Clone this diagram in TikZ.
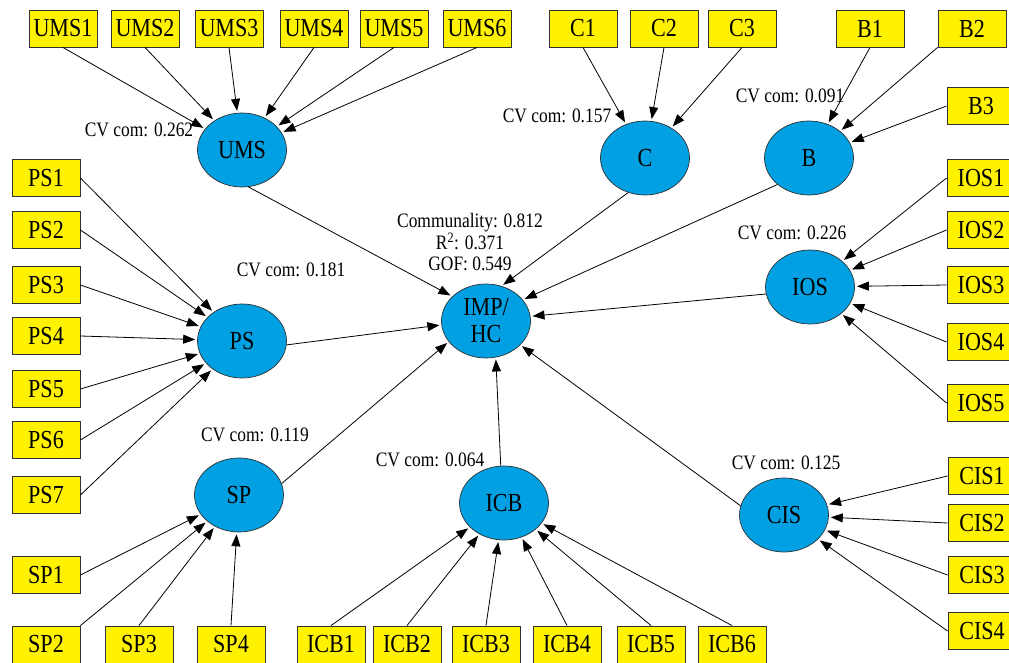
\documentclass[tikz,border=0pt]{standalone}
\usepackage{fontspec}
\setmainfont{Liberation Serif}[FakeStretch=0.85]
\usetikzlibrary{shapes.geometric,arrows.meta}
\definecolor{boxyellow}{RGB}{255,242,0}
\definecolor{lvblue}{RGB}{0,160,227}
\definecolor{edgegray}{RGB}{50,50,50}
\tikzset{
  ind/.style={draw=edgegray, line width=0.9pt, fill=boxyellow, minimum width=68pt, minimum height=37pt, inner sep=0pt, font=\fontsize{26}{28}\selectfont},
  lv/.style={ellipse, draw=edgegray, line width=0.7pt, fill=lvblue, minimum width=89pt, minimum height=74pt, inner sep=0pt, font=\fontsize{26}{27}\selectfont, align=center},
  lbl/.style={font=\fontsize{20.5}{21}\selectfont, inner sep=0pt, align=center},
  arr/.style={-{Triangle[length=12pt,width=9pt]}, line width=0.8pt, shorten >=2pt}
}
\begin{document}
\begin{tikzpicture}[x=1pt,y=-1pt]
\useasboundingbox (0,0) rectangle (1009,663);
% latent variables
\node[lv] (UMS) at (242,150) {UMS};
\node[lv] (C) at (645,158) {C};
\node[lv] (B) at (809,158) {B};
\node[lv] (IOS) at (810,287) {IOS};
\node[lv] (PS) at (242,341) {PS};
\node[lv] (IMP) at (486,321) {IMP/\\HC};
\node[lv] (SP) at (239,495) {SP};
\node[lv] (ICB) at (504,503) {ICB};
\node[lv] (CIS) at (784,515) {CIS};
% labels
\node[lbl] (lUMS) at (139,130) {CV com: 0.262};
\node[lbl] (lC) at (557,116) {CV com: 0.157};
\node[lbl] (lB) at (790,96) {CV com: 0.091};
\node[lbl] (lIOS) at (792,233) {CV com: 0.226};
\node[lbl] (lPS) at (291,270) {CV com: 0.181};
\node[lbl] (lSP) at (255,435) {CV com: 0.119};
\node[lbl] (lICB) at (430,460) {CV com: 0.064};
\node[lbl] (lCIS) at (786,463) {CV com: 0.125};
\node[lbl, font=\fontsize{20.5}{21}\selectfont] (lIMP) at (470,242) {Communality: 0.812\\R\textsuperscript{2}: 0.371\\GOF: 0.549};
% indicators top
\node[ind] (UMS1) at (63,28.5) {UMS1};
\node[ind] (UMS2) at (145,28.5) {UMS2};
\node[ind] (UMS3) at (229,28.5) {UMS3};
\node[ind] (UMS4) at (314,28.5) {UMS4};
\node[ind] (UMS5) at (394,28.5) {UMS5};
\node[ind] (UMS6) at (477,28.5) {UMS6};
\node[ind] (C1) at (583,28.5) {C1};
\node[ind] (C2) at (664,28.5) {C2};
\node[ind] (C3) at (742,28.5) {C3};
\node[ind] (B1) at (870,28.5) {B1};
\node[ind] (B2) at (972,28.5) {B2};
\node[ind] (B3) at (981,106) {B3};
% right
\node[ind] (IOS1) at (981,178) {IOS1};
\node[ind] (IOS2) at (981,230) {IOS2};
\node[ind] (IOS3) at (981,285) {IOS3};
\node[ind] (IOS4) at (981,342) {IOS4};
\node[ind] (IOS5) at (981,403) {IOS5};
\node[ind] (CIS1) at (982,476) {CIS1};
\node[ind] (CIS2) at (982,523) {CIS2};
\node[ind] (CIS3) at (982,575) {CIS3};
\node[ind] (CIS4) at (982,631) {CIS4};
% left
\node[ind] (PS1) at (46,178) {PS1};
\node[ind] (PS2) at (46,230) {PS2};
\node[ind] (PS3) at (46,285) {PS3};
\node[ind] (PS4) at (46,336) {PS4};
\node[ind] (PS5) at (46,389) {PS5};
\node[ind] (PS6) at (46,440) {PS6};
\node[ind] (PS7) at (46,495) {PS7};
\node[ind] (SP1) at (46,575) {SP1};
% bottom
\node[ind] (SP2) at (46,644.5) {SP2};
\node[ind] (SP3) at (139,644.5) {SP3};
\node[ind] (SP4) at (231,644.5) {SP4};
\node[ind] (ICB1) at (331,644.5) {ICB1};
\node[ind] (ICB2) at (407,644.5) {ICB2};
\node[ind] (ICB3) at (486,644.5) {ICB3};
\node[ind] (ICB4) at (567,644.5) {ICB4};
\node[ind] (ICB5) at (651,644.5) {ICB5};
\node[ind] (ICB6) at (732,644.5) {ICB6};
% indicator arrows
\foreach \i in {1,...,6} \draw[arr] (UMS\i.south) -- (UMS);
\foreach \i in {1,2,3} \draw[arr] (C\i.south) -- (C);
\draw[arr] (B1.south) -- (B);
\draw[arr] (B2.south west) -- (B);
\draw[arr] (B3.west) -- (B);
\foreach \i in {1,...,5} \draw[arr] (IOS\i.west) -- (IOS);
\foreach \i in {1,...,4} \draw[arr] (CIS\i.west) -- (CIS);
\foreach \i in {1,...,7} \draw[arr] (PS\i.east) -- (PS);
\draw[arr] (SP1.east) -- (SP);
\draw[arr] (SP2.north east) -- (SP);
\draw[arr] (SP3.north) -- (SP);
\draw[arr] (SP4.north) -- (SP);
\foreach \i in {1,...,6} \draw[arr] (ICB\i.north) -- (ICB);
% structural arrows
\draw[arr] (UMS.-80) -- (IMP.144);
\draw[arr] (PS.-5) -- (IMP.185);
\draw[arr] (SP.15) -- (IMP.209);
\draw[arr] (C.-116) -- (IMP.66);
\draw[arr] (B.220) -- (IMP.30);
\draw[arr] (IOS.189) -- (IMP.6);
\draw[arr] (CIS.168) -- (IMP.-35);
\draw[arr] (ICB.95) -- (IMP.-75);
\end{tikzpicture}
\end{document}
